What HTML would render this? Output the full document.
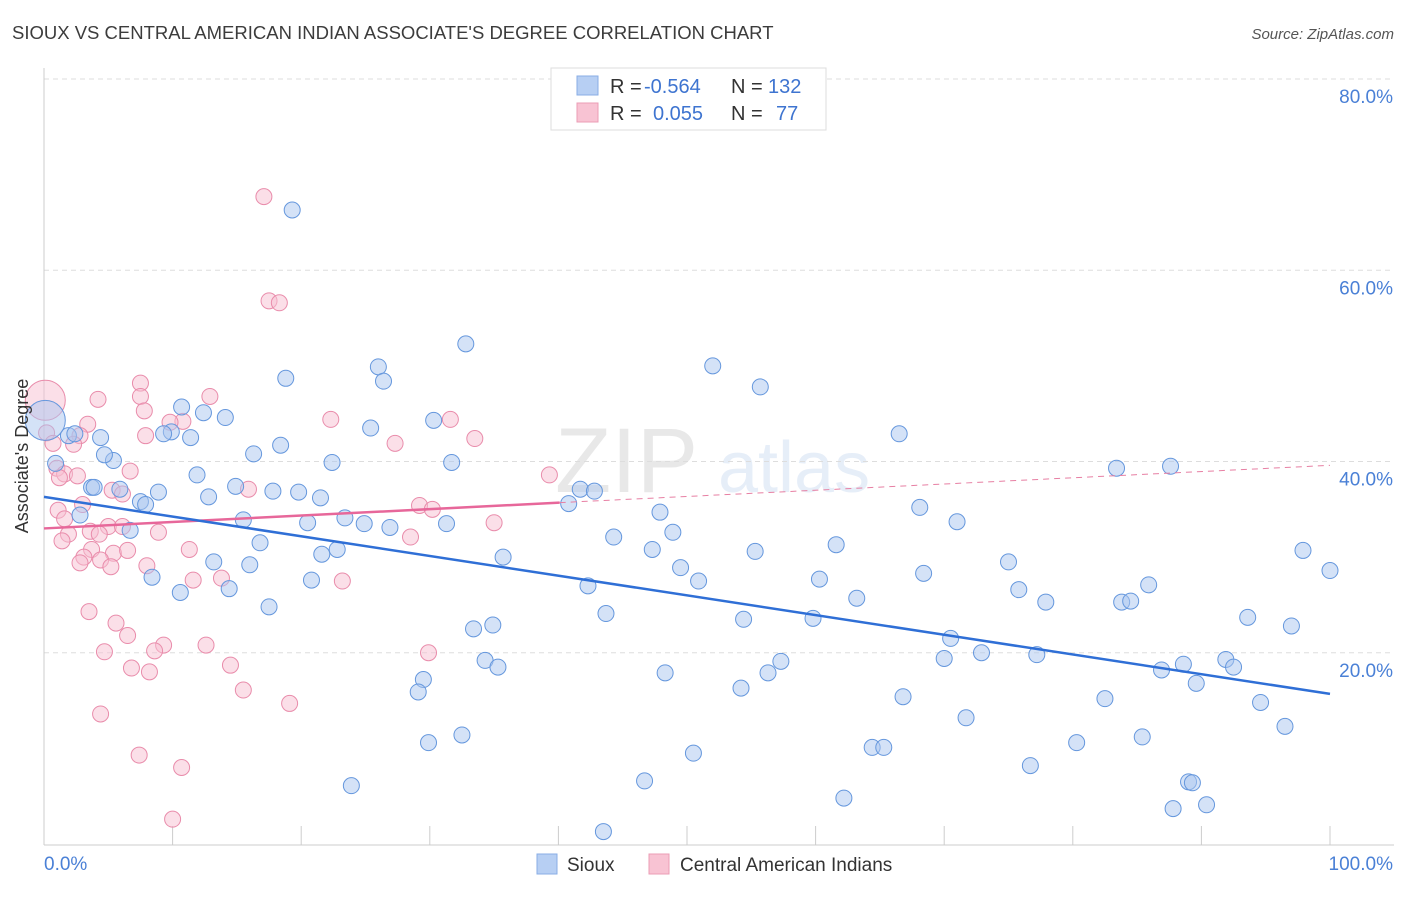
<!DOCTYPE html>
<html><head><meta charset="utf-8">
<style>
body{margin:0;background:#fff;font-family:"Liberation Sans",sans-serif;}
svg text{font-family:"Liberation Sans",sans-serif;}
</style></head>
<body>
<svg id="chart" width="1406" height="892" xmlns="http://www.w3.org/2000/svg">
<text x="12" y="39" font-size="18.5" fill="#3c3c3c">SIOUX VS CENTRAL AMERICAN INDIAN ASSOCIATE'S DEGREE CORRELATION CHART</text>
<text x="1394" y="39" font-size="15" font-style="italic" fill="#555" text-anchor="end">Source: ZipAtlas.com</text>
<g opacity="0.13">
<text x="555" y="492" font-size="92" font-family="Liberation Serif" fill="#555">ZIP</text>
<text x="718" y="492" font-size="72" fill="#4a7fd0">atlas</text>
</g>
<g id="grid"></g>
<g id="axes"></g>
<g id="trends"></g>
<g id="points"></g>
<text transform="translate(28,456) rotate(-90)" font-size="18" fill="#333" text-anchor="middle">Associate's Degree</text>
<g>
<rect x="551" y="68" width="275" height="62" fill="#fff" stroke="#ddd"/>
<rect x="577" y="76" width="21" height="19" fill="#b7cff3" stroke="#88aee6"/>
<rect x="577" y="103" width="21" height="19" fill="#f8c3d3" stroke="#eb9db6"/>
<text x="610" y="93" font-size="20" fill="#333">R =</text>
<text x="644" y="93" font-size="20" fill="#3e74d0">-0.564</text>
<text x="731" y="93" font-size="20" fill="#333">N =</text>
<text x="768" y="93" font-size="20" fill="#3e74d0">132</text>
<text x="610" y="120" font-size="20" fill="#333">R =</text>
<text x="653" y="120" font-size="20" fill="#3e74d0">0.055</text>
<text x="731" y="120" font-size="20" fill="#333">N =</text>
<text x="776" y="120" font-size="20" fill="#3e74d0">77</text>
</g>
<g>
<rect x="537" y="854" width="20" height="20" fill="#b7cff3" stroke="#88aee6"/>
<text x="567" y="871" font-size="19" fill="#333">Sioux</text>
<rect x="649" y="854" width="20" height="20" fill="#f8c3d3" stroke="#eb9db6"/>
<text x="680" y="871" font-size="19" fill="#333">Central American Indians</text>
</g>
</svg>
<script>
const yTicks=[20,40,60,80];
const yTickLabels=["20.0%","40.0%","60.0%","80.0%"];
const xTicks=[0,10,20,30,40,50,60,70,80,90,100];
const siouxX=[19.3,32.8,52.0,55.7,26.0,26.4,18.8,10.7,12.4,14.1,9.9,9.3,11.4,4.4,1.9,2.4,5.4,4.7,0.9,16.3,18.4,22.4,25.4,30.3,31.7,66.5,83.4,87.6,11.9,8.9,5.9,3.7,3.9,7.5,7.9,6.7,2.8,14.9,12.8,17.8,19.8,21.5,15.5,20.5,23.4,24.9,26.9,31.3,40.8,41.7,42.8,47.9,48.9,44.3,61.6,68.1,71.0,16.8,16.0,13.2,14.4,8.4,10.6,17.5,20.8,21.6,22.8,35.7,47.3,55.3,49.5,50.9,42.3,60.3,63.2,68.4,75.0,75.8,77.9,83.8,84.5,85.9,97.9,100.0,43.7,33.4,34.9,54.4,59.8,70.5,93.6,97.0,34.3,35.3,48.3,57.3,56.3,54.2,70.0,72.9,77.2,86.9,88.6,91.9,92.5,89.6,29.5,29.1,66.8,82.5,94.6,71.7,96.5,32.5,29.9,50.5,64.4,65.3,80.3,85.4,76.7,46.7,23.9,62.2,89.0,89.3,87.8,90.4,43.5];
const siouxY=[66.3,52.3,50.0,47.8,49.9,48.4,48.7,45.7,45.1,44.6,43.1,42.9,42.5,42.5,42.7,42.9,40.1,40.7,39.8,40.8,41.7,39.9,43.5,44.3,39.9,42.9,39.3,39.5,38.6,36.8,37.1,37.3,37.3,35.8,35.5,32.8,34.4,37.4,36.3,36.9,36.8,36.2,33.9,33.6,34.1,33.5,33.1,33.5,35.6,37.1,36.9,34.7,32.6,32.1,31.3,35.2,33.7,31.5,29.2,29.5,26.7,27.9,26.3,24.8,27.6,30.3,30.8,30.0,30.8,30.6,28.9,27.5,27.0,27.7,25.7,28.3,29.5,26.6,25.3,25.3,25.4,27.1,30.7,28.6,24.1,22.5,22.9,23.5,23.6,21.5,23.7,22.8,19.2,18.5,17.9,19.1,17.9,16.3,19.4,20.0,19.8,18.2,18.8,19.3,18.5,16.8,17.2,15.9,15.4,15.2,14.8,13.2,12.3,11.4,10.6,9.5,10.1,10.1,10.6,11.2,8.2,6.6,6.1,4.8,6.5,6.4,3.7,4.1,1.3];
const centralX=[17.1,17.5,18.3,7.5,12.9,4.2,7.5,7.8,10.8,9.8,22.3,31.6,3.4,0.2,2.8,2.3,7.9,33.5,27.3,0.7,1.0,1.6,2.6,1.2,6.7,5.3,6.1,15.9,39.3,3.0,1.1,1.6,3.6,5.0,6.1,8.9,1.9,4.3,29.2,30.2,28.5,35.0,1.4,3.7,5.4,6.5,11.3,3.1,4.4,2.8,5.2,8.0,11.6,13.8,23.2,3.5,5.6,6.5,9.3,8.6,4.7,12.6,29.9,14.5,6.8,8.2,15.5,19.1,4.4,7.4,10.7,10.0];
const centralY=[67.7,56.8,56.6,48.2,46.8,46.5,46.8,45.3,44.2,44.1,44.4,44.4,43.9,43.0,42.7,41.8,42.7,42.4,41.9,41.9,39.3,38.7,38.5,38.3,39.0,37.0,36.6,37.1,38.6,35.5,34.9,34.0,32.7,33.2,33.2,32.6,32.4,32.4,35.4,35.0,32.1,33.6,31.7,30.8,30.4,30.7,30.8,30.0,29.7,29.4,29.0,29.1,27.6,27.8,27.5,24.3,23.1,21.8,20.8,20.2,20.1,20.8,20.0,18.7,18.4,18.0,16.1,14.7,13.6,9.3,8.0,2.6];
const bigSioux=[0.1,44.3];
const bigCentral=[0.1,46.4];
const siouxTrend=[[0,36.3],[100,15.7]];
const centralTrendSolid=[[0,33.0],[40.1,35.7]];
const centralTrendDashed=[[40.1,35.7],[100,39.6]];

const NS="http://www.w3.org/2000/svg";
const X0=44,X1=1330,Y0=844,Y80=79;
function sx(v){return X0+(X1-X0)*v/100;}
function sy(v){return Y0-(Y0-Y80)*v/80;}
function mk(tag,attrs,parent){const e=document.createElementNS(NS,tag);for(const k in attrs)e.setAttribute(k,attrs[k]);parent.appendChild(e);return e;}
const grid=document.getElementById('grid'),axes=document.getElementById('axes'),trends=document.getElementById('trends'),pts=document.getElementById('points');
yTicks.forEach((t,i)=>{
  const l=mk('line',{x1:44,x2:1394,y1:sy(t),y2:sy(t),stroke:'#ddd','stroke-dasharray':'5,4'},grid);
  
  
  const tx=mk('text',{x:1393,y:sy(t)+24,'font-size':19,fill:'#4a80d6','text-anchor':'end'},axes);
  tx.textContent=yTickLabels[i];
  
  
});
const yl=mk('line',{x1:44,x2:44,y1:68,y2:845,stroke:'#ccc'},axes);


const xl=mk('line',{x1:44,x2:1394,y1:845,y2:845,stroke:'#ccc'},axes);


xTicks.forEach(t=>{
  const l=mk('line',{x1:sx(t),x2:sx(t),y1:826,y2:845,stroke:'#ccc'},axes);
  
  
});
const xa=mk('text',{x:44,y:870,'font-size':19,fill:'#4a80d6'},axes);xa.textContent='0.0%';


const xb=mk('text',{x:1393,y:870,'font-size':19,fill:'#4a80d6','text-anchor':'end'},axes);xb.textContent='100.0%';



function dot(x,y,r,fill,stroke,name){
  const c=mk('circle',{cx:sx(x),cy:sy(y),r:r,fill:fill,'fill-opacity':0.5,stroke:stroke,'stroke-width':1},pts);
  
  
}
centralX.forEach((x,i)=>dot(x,centralY[i],8,'#f8bfd1','#e98cab','central-american-point'));
siouxX.forEach((x,i)=>dot(x,siouxY[i],8,'#a9c6f0','#6597dd','sioux-point'));
dot(bigCentral[0],bigCentral[1],20,'#f8bfd1','#e98cab','central-american-point');
dot(bigSioux[0],bigSioux[1],20,'#a9c6f0','#6597dd','sioux-point');

function tl(p,stroke,w,dash,name){
  const a={x1:sx(p[0][0]),y1:sy(p[0][1]),x2:sx(p[1][0]),y2:sy(p[1][1]),stroke:stroke,'stroke-width':w};
  if(dash)a['stroke-dasharray']=dash;
  const l=mk('line',a,trends);
  
  
}
tl(centralTrendDashed,'#e77fa3',1,'6,5','central-american-trend-dashed');
tl(centralTrendSolid,'#e7679a',2.5,null,'central-american-trend');
tl(siouxTrend,'#2f6fd6',2.5,null,'sioux-trend');
document.getElementById('chart').appendChild(trends);
</script>
</body></html>
